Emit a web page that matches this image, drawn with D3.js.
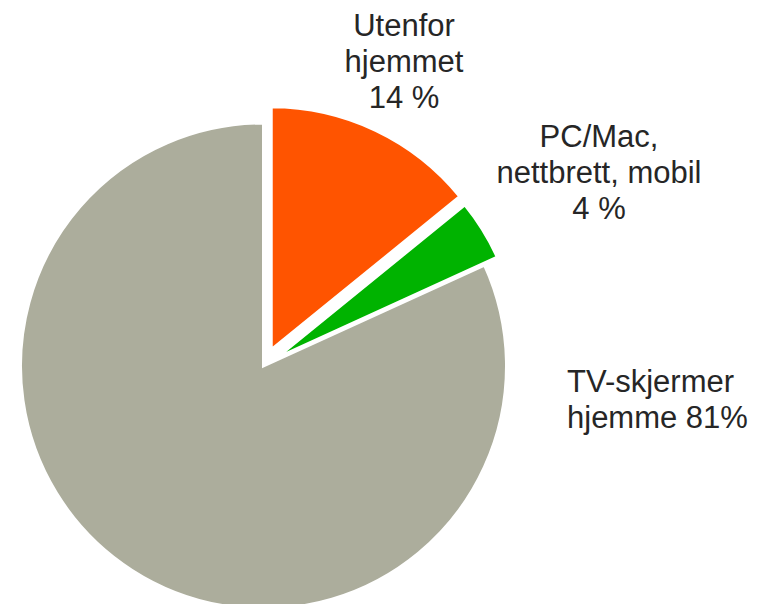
<!DOCTYPE html>
<html>
<head>
<meta charset="utf-8">
<script src="https://cdn.jsdelivr.net/npm/d3@7"></script>
<style>
  html, body { margin: 0; padding: 0; background: #fff; }
  svg { display: block; }
</style>
</head>
<body>
<div id="chart"></div>
<script>
// data
const categories = ["Utenfor hjemmet", "PC/Mac, nettbrett, mobil", "TV-skjermer hjemme"];
const shares = [14, 4, 81];
const labelLines = [
  ["Utenfor", "hjemmet", "14 %"],
  ["PC/Mac,", "nettbrett, mobil", "4 %"],
  ["TV-skjermer", "hjemme 81%"]
];
const colors = ["#ff5400", "#00b300", "#acad9c"];

const width = 757, height = 604;
const cx = 263.5, cy = 366, radius = 243;
// how far each slice is pulled out from the middle
const explode = [18, 15, 0];
// label anchor, alignment
const labelPos = [
  { x: 404, y: 36, anchor: "middle" },
  { x: 599, y: 147, anchor: "middle" },
  { x: 567, y: 392, anchor: "start" }
];

const svg = d3.select("#chart").append("svg")
  .attr("width", width)
  .attr("height", height);

const pie = d3.pie().sort(null).value(d => d.value);
const arcs = pie(categories.map((c, i) => ({ name: c, value: shares[i], i: i })));

const arc = d3.arc().innerRadius(0).outerRadius(radius);

svg.selectAll("path.slice")
  .data(arcs)
  .join("path")
    .attr("class", "slice")
    .attr("d", arc)
    .attr("fill", d => colors[d.data.i])
    .attr("stroke", "#fff")
    .attr("stroke-width", 3)
    .attr("stroke-linejoin", "miter")
    .attr("transform", d => {
      const mid = (d.startAngle + d.endAngle) / 2;
      const off = explode[d.data.i];
      const x = cx + Math.sin(mid) * off;
      const y = cy - Math.cos(mid) * off;
      return "translate(" + x + "," + y + ")";
    });

// labels
labelLines.forEach((lines, i) => {
  const p = labelPos[i];
  const t = svg.append("text")
    .attr("x", p.x)
    .attr("y", p.y)
    .attr("text-anchor", p.anchor)
    .attr("font-family", "'Liberation Sans', Arial, sans-serif")
    .attr("font-size", "31px")
    .attr("fill", "#262626");
  lines.forEach((l, j) => {
    t.append("tspan")
      .attr("x", p.x)
      .attr("dy", j === 0 ? 0 : 36)
      .text(l);
  });
});
</script>
</body>
</html>
